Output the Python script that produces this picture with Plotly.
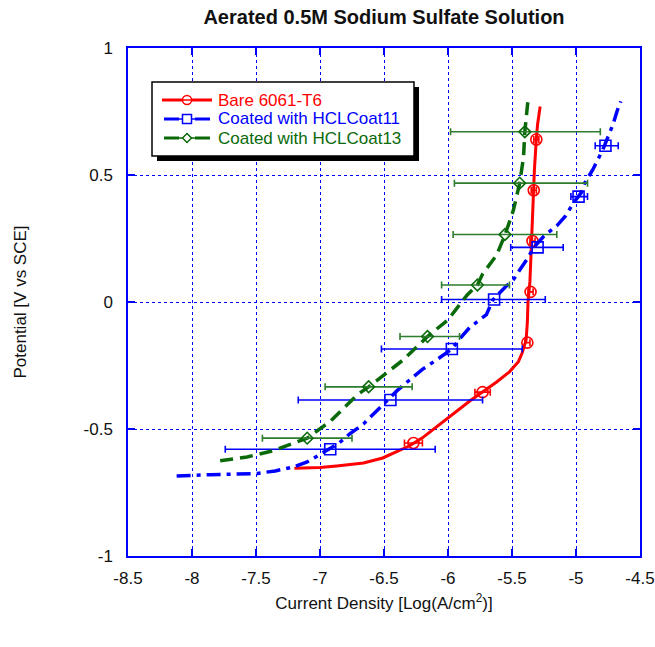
import plotly.graph_objects as go

# ---- Bare 6061-T6 polarization curve ----
bare_x = [-7.20, -7.00, -6.87, -6.75, -6.66, -6.51, -6.40, -6.30, -6.20, -6.10, -6.04, -5.92,
          -5.83, -5.73, -5.62, -5.52, -5.45, -5.42, -5.39, -5.38, -5.375, -5.36, -5.355,
          -5.345, -5.34, -5.33, -5.325, -5.31, -5.30, -5.28]
bare_y = [-0.655, -0.652, -0.646, -0.640, -0.634, -0.614, -0.590, -0.566, -0.535, -0.495, -0.470, -0.425,
          -0.390, -0.355, -0.315, -0.275, -0.235, -0.200, -0.150, -0.080, 0.000, 0.080, 0.150,
          0.240, 0.330, 0.440, 0.520, 0.640, 0.700, 0.770]
bare_mx = [-6.27, -5.73, -5.38, -5.355, -5.34, -5.33, -5.31]
bare_my = [-0.555, -0.355, -0.160, 0.040, 0.240, 0.440, 0.640]
bare_lo = [-6.34, -5.79, -5.40, -5.375, -5.36, -5.35, -5.33]
bare_hi = [-6.20, -5.67, -5.36, -5.335, -5.32, -5.31, -5.29]

# ---- Coated with HCLCoat11 ----
c11_x = [-8.12, -7.98, -7.86, -7.70, -7.49, -7.35, -7.21, -7.10, -7.00, -6.92, -6.85, -6.77,
         -6.66, -6.58, -6.48, -6.40, -6.30, -6.20, -6.09, -5.97, -5.90, -5.83, -5.70, -5.65,
         -5.55, -5.49, -5.44, -5.38, -5.33, -5.25, -5.15, -5.08, -5.02, -4.96, -4.93, -4.87,
         -4.82, -4.79, -4.75, -4.71, -4.68, -4.65]
c11_y = [-0.685, -0.684, -0.680, -0.678, -0.675, -0.665, -0.650, -0.630, -0.600, -0.580, -0.555, -0.520,
         -0.480, -0.440, -0.390, -0.350, -0.307, -0.265, -0.228, -0.185, -0.140, -0.100, -0.050, 0.008,
         0.060, 0.087, 0.126, 0.170, 0.215, 0.260, 0.300, 0.340, 0.390, 0.430, 0.470, 0.520,
         0.570, 0.600, 0.650, 0.700, 0.750, 0.790]
c11_mx = [-6.92, -6.45, -5.97, -5.64, -5.30, -4.98, -4.77]
c11_my = [-0.580, -0.386, -0.185, 0.010, 0.215, 0.415, 0.615]
c11_lo = [-7.74, -7.17, -6.52, -6.05, -5.51, -5.04, -4.85]
c11_hi = [-6.10, -5.73, -5.42, -5.24, -5.10, -4.91, -4.67]

# ---- Coated with HCLCoat13 ----
c13_x = [-7.78, -7.57, -7.37, -7.22, -7.10, -6.92, -6.71, -6.62, -6.50, -6.35, -6.16, -6.00,
         -5.85, -5.77, -5.73, -5.62, -5.555, -5.49, -5.44, -5.41, -5.40, -5.375]
c13_y = [-0.625, -0.610, -0.586, -0.560, -0.536, -0.470, -0.366, -0.334, -0.285, -0.228, -0.136, -0.070,
         0.028, 0.067, 0.110, 0.185, 0.264, 0.360, 0.468, 0.570, 0.670, 0.795]
c13_mx = [-7.10, -6.62, -6.16, -5.77, -5.555, -5.44, -5.40]
c13_my = [-0.536, -0.334, -0.136, 0.067, 0.266, 0.468, 0.670]
c13_lo = [-7.45, -6.96, -6.375, -6.05, -5.96, -5.95, -5.98]
c13_hi = [-6.75, -6.28, -5.91, -5.52, -5.15, -4.91, -4.81]

x_ticks = [-8.5, -8, -7.5, -7, -6.5, -6, -5.5, -5, -4.5]
y_ticks = [-1, -0.5, 0, 0.5, 1]

RED, BLUE, GREEN = "#ff0000", "#0000ff", "#0a6a0a"
FONT = "Liberation Sans, Arial, sans-serif"
TEXT = "#111111"

series = [
    dict(name="Bare 6061-T6", color=RED, bar_color=RED, dash="solid", symbol="circle-open", size=11,
         cx=bare_x, cy=bare_y, mx=bare_mx, my=bare_my, lo=bare_lo, hi=bare_hi),
    dict(name="Coated with HCLCoat11", color=BLUE, bar_color=BLUE, dash="14px,6px,4px,6px",
         symbol="square-open", size=11,
         cx=c11_x, cy=c11_y, mx=c11_mx, my=c11_my, lo=c11_lo, hi=c11_hi),
    dict(name="Coated with HCLCoat13", color=GREEN, bar_color="#2e7d2e", dash="13px,7px",
         symbol="diamond-open", size=9,
         cx=c13_x, cy=c13_y, mx=c13_mx, my=c13_my, lo=c13_lo, hi=c13_hi),
]

fig = go.Figure()

for s in series:
    # measured curve
    fig.add_trace(go.Scatter(
        x=s["cx"], y=s["cy"], mode="lines", name=s["name"], showlegend=False, hoverinfo="skip",
        line=dict(color=s["color"], width=3.5 if s["dash"] != "solid" else 3, dash=s["dash"]),
    ))
    # averaged points with horizontal scatter bars
    fig.add_trace(go.Scatter(
        x=s["mx"], y=s["my"], mode="markers", name=s["name"], showlegend=False,
        marker=dict(symbol=s["symbol"], size=s["size"], color=s["color"], line=dict(width=1.6)),
        error_x=dict(type="data", symmetric=False,
                     array=[h - m for h, m in zip(s["hi"], s["mx"])],
                     arrayminus=[m - l for l, m in zip(s["lo"], s["mx"])],
                     color=s["bar_color"], thickness=1.6, width=3.5),
    ))

# plot area spans x 128..640 px, y 48..556 px of the page
PL, PR, PT, PB = 128, 640, 48, 556

def px_x(p):
    return (p - PL) / (PR - PL)

def px_y(p):
    return (PB - p) / (PB - PT)

# legend frame with drop shadow
fig.add_shape(type="rect", xref="paper", yref="paper", layer="above",
              x0=px_x(157), x1=px_x(419), y0=px_y(161), y1=px_y(87),
              fillcolor="black", line=dict(width=0))
fig.add_shape(type="rect", xref="paper", yref="paper", layer="above",
              x0=px_x(152), x1=px_x(414), y0=px_y(156), y1=px_y(82),
              fillcolor="white", line=dict(color="black", width=1.5))

# legend rows: sample line, symbol, label
rows_y = [100, 119, 138]
for s, ry in zip(series, rows_y):
    if s["dash"] == "solid":
        segs = [(162, 212)]
    else:
        segs = [(164, 179), (195, 210)]
    for a, b in segs:
        fig.add_shape(type="line", xref="paper", yref="paper", layer="above",
                      x0=px_x(a), x1=px_x(b), y0=px_y(ry), y1=px_y(ry),
                      line=dict(color=s["color"], width=3))
    cx, r = 187, 4.5
    if s["symbol"].startswith("circle"):
        fig.add_shape(type="circle", xref="paper", yref="paper", layer="above",
                      x0=px_x(cx - r), x1=px_x(cx + r), y0=px_y(ry + r), y1=px_y(ry - r),
                      fillcolor="white", line=dict(color=s["color"], width=1.5))
        fig.add_shape(type="line", xref="paper", yref="paper", layer="above",
                      x0=px_x(cx - r), x1=px_x(cx + r), y0=px_y(ry), y1=px_y(ry),
                      line=dict(color=s["color"], width=1.5))
    elif s["symbol"].startswith("square"):
        fig.add_shape(type="line", xref="paper", yref="paper", layer="above",
                      x0=px_x(179), x1=px_x(195), y0=px_y(ry), y1=px_y(ry),
                      line=dict(color=s["color"], width=1.5))
        fig.add_shape(type="rect", xref="paper", yref="paper", layer="above",
                      x0=px_x(cx - r), x1=px_x(cx + r), y0=px_y(ry + r), y1=px_y(ry - r),
                      fillcolor="white", line=dict(color=s["color"], width=1.5))
    else:
        fig.add_shape(type="line", xref="paper", yref="paper", layer="above",
                      x0=px_x(179), x1=px_x(195), y0=px_y(ry), y1=px_y(ry),
                      line=dict(color=s["color"], width=1.5))
        d = (f"M {px_x(cx - r)} {px_y(ry)} L {px_x(cx)} {px_y(ry - r)} "
             f"L {px_x(cx + r)} {px_y(ry)} L {px_x(cx)} {px_y(ry + r)} Z")
        fig.add_shape(type="path", xref="paper", yref="paper", layer="above", path=d,
                      fillcolor="white", line=dict(color=s["color"], width=1.5))
    fig.add_annotation(x=px_x(216), y=px_y(ry), xref="paper", yref="paper",
                       xanchor="left", yanchor="middle", showarrow=False, text=s["name"],
                       font=dict(family=FONT, size=17, color=s["color"]))

axis_common = dict(
    showline=True, linecolor=BLUE, linewidth=1.5, mirror="ticks",
    ticks="inside", ticklen=7, tickwidth=1.5, tickcolor=BLUE,
    showgrid=True, gridcolor=BLUE, gridwidth=1, griddash="dot",
    zeroline=False, automargin=False, tickfont=dict(family=FONT, size=17, color=TEXT),
)

fig.update_layout(
    width=655, height=647,
    margin=dict(l=PL, r=655 - PR, t=PT, b=647 - PB),
    paper_bgcolor="white", plot_bgcolor="white",
    title=dict(text="<b>Aerated 0.5M Sodium Sulfate Solution</b>",
               font=dict(family=FONT, size=20, color=TEXT),
               x=(PL + PR) / 2 / 655, xanchor="center", y=1 - 17 / 647, yanchor="middle"),
    xaxis=dict(range=[-8.5, -4.5], tickvals=x_ticks, ticktext=[f"{v:g}" for v in x_ticks],
               title=dict(text="Current Density [Log(A/cm<sup>2</sup>)]",
                          font=dict(family=FONT, size=17, color=TEXT), standoff=10),
               ticklabelstandoff=6, **axis_common),
    yaxis=dict(range=[-1, 1], tickvals=y_ticks, ticktext=[f"{v:g}" for v in y_ticks],
               title=dict(text="Potential [V vs SCE]",
                          font=dict(family=FONT, size=17, color=TEXT), standoff=53),
               ticklabelstandoff=10, **axis_common),
    showlegend=False,
)

fig.write_html("out.html")
